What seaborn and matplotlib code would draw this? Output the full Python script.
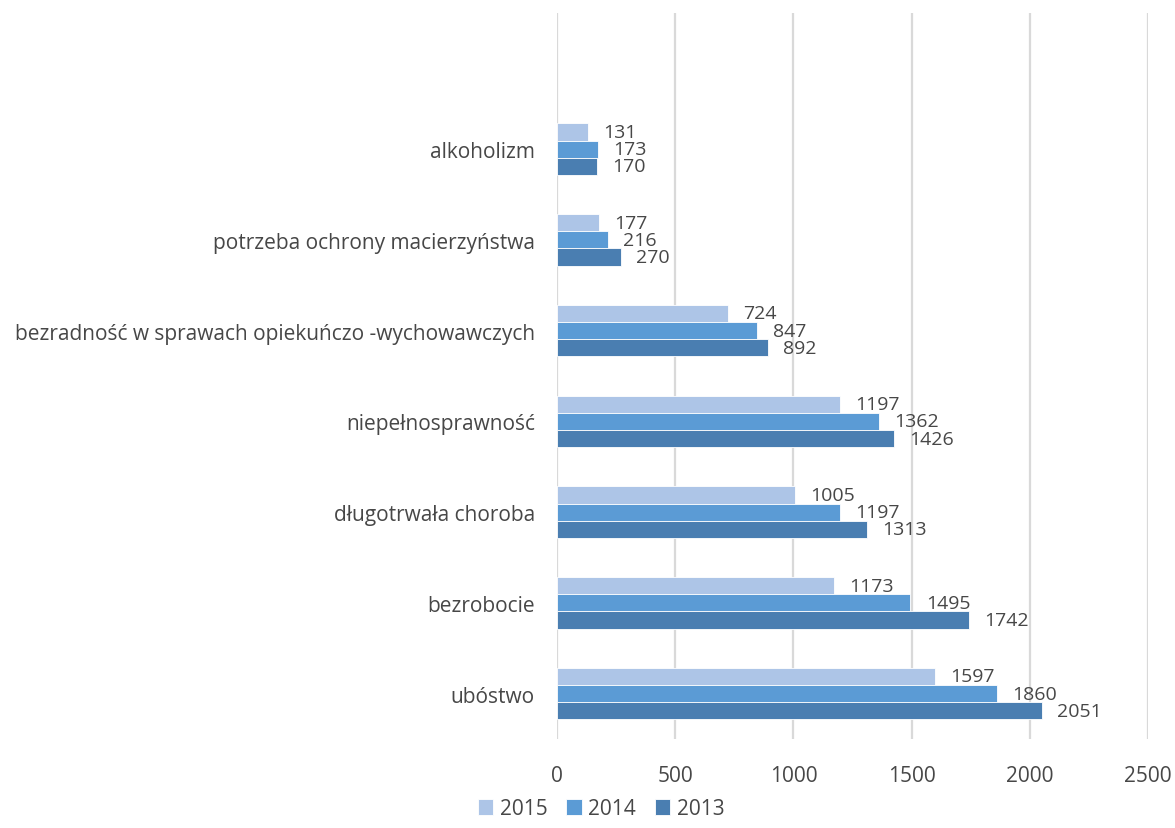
import matplotlib
matplotlib.use('Agg')
import matplotlib.pyplot as plt
import pandas as pd
import seaborn as sns

# Data
categories = [
    'alkoholizm',
    'potrzeba ochrony macierzyństwa',
    'bezradność w sprawach opiekuńczo -wychowawczych',
    'niepełnosprawność',
    'długotrwała choroba',
    'bezrobocie',
    'ubóstwo',
]
years = ['2015', '2014', '2013']
values_2015 = [131, 177, 724, 1197, 1005, 1173, 1597]
values_2014 = [173, 216, 847, 1362, 1197, 1495, 1860]
values_2013 = [170, 270, 892, 1426, 1313, 1742, 2051]
x_ticks = [0, 500, 1000, 1500, 2000, 2500]

colors = ['#adc5e7', '#5b9bd5', '#4a7eb1']
text_color = '#474747'

sns.set_theme(style='white')
plt.rcParams['font.family'] = ['Open Sans', 'DejaVu Sans']

df = pd.DataFrame({
    'Kategoria': categories * 3,
    'Rok': [years[0]] * 7 + [years[1]] * 7 + [years[2]] * 7,
    'Liczba': values_2015 + values_2014 + values_2013,
})

fig = plt.figure(figsize=(11.75, 8.29), dpi=100)
ax = fig.add_axes([557 / 1175, 1 - 740 / 829, (1148 - 557) / 1175, (740 - 14) / 829])

sns.barplot(
    data=df, y='Kategoria', x='Liczba', hue='Rok',
    order=categories, hue_order=years, palette=colors,
    orient='h', width=0.57, edgecolor='white', linewidth=0.6,
    saturation=1, ax=ax,
)

for container in ax.containers:
    ax.bar_label(container, padding=11, fontsize=14, color=text_color)

ax.set_xlim(0, 2500)
ax.set_ylim(6.5, -1.5)
ax.set_xticks(x_ticks)
ax.xaxis.grid(True, color='#d9d9d9', linewidth=1.6)
ax.yaxis.grid(False)
ax.set_axisbelow(True)
for side in ['top', 'right', 'bottom', 'left']:
    ax.spines[side].set_visible(False)
ax.set_xlabel('')
ax.set_ylabel('')
ax.tick_params(axis='y', length=0, pad=16, labelsize=15, labelcolor=text_color)
ax.tick_params(axis='x', length=0, pad=19, labelsize=15, labelcolor=text_color)

handles, labels = ax.get_legend_handles_labels()
ax.legend(
    handles, labels, loc='lower center', bbox_to_anchor=(601 / 1175, -0.012),
    bbox_transform=fig.transFigure, ncol=3, frameon=False,
    handlelength=0.75, handleheight=0.75, handletextpad=0.3,
    columnspacing=0.9, fontsize=15, labelcolor=text_color,
)

fig.savefig('out.png', dpi=100)
